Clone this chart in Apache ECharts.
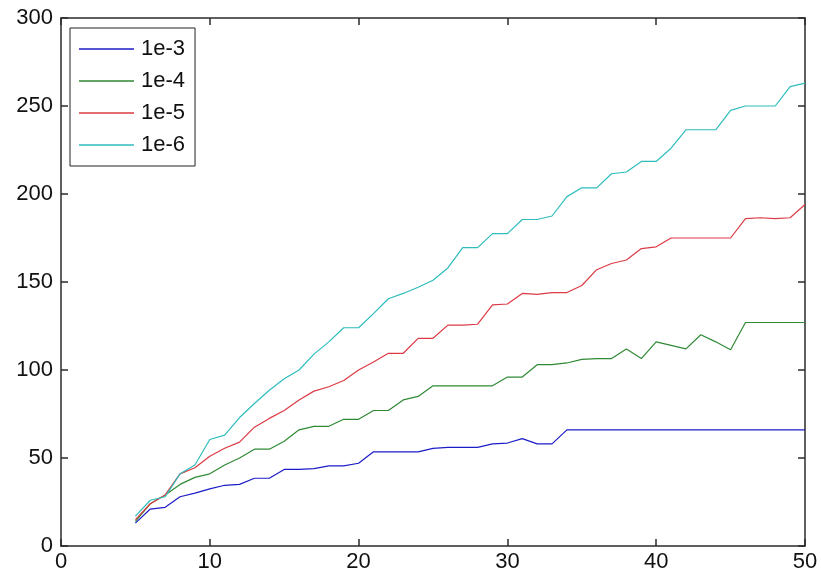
<!DOCTYPE html>
<html>
<head>
<meta charset="utf-8">
<script src="https://cdn.jsdelivr.net/npm/echarts@6/dist/echarts.min.js"></script>
<style>
  html, body { margin: 0; padding: 0; background: #fff; }
  #main { width: 821px; height: 579px; }
</style>
</head>
<body>
<div id="main"></div>
<script>
// x positions shared by all curves
var xs = [5, 6, 7, 8, 9, 10, 11, 12, 13, 14, 15, 16, 17, 18, 19, 20, 21, 22, 23, 24, 25, 26, 27,
  28, 29, 30, 31, 32, 33, 34, 35, 36, 37, 38, 39, 40, 41, 42, 43, 44, 45, 46, 47, 48, 49, 50];

var names = ["1e-3", "1e-4", "1e-5", "1e-6"];
var colors = ["#1c1cc8", "#2f8a35", "#dc3a44", "#2fbcbc"];

var y1e3 = [13, 21, 22, 28, 30, 32.5, 34.5, 35, 38.5, 38.5, 43.5, 43.5, 44, 45.5, 45.5, 47, 53.5, 53.5, 53.5, 53.5,
  55.5, 56, 56, 56, 58, 58.5, 61, 58, 58, 66, 66, 66, 66, 66, 66, 66, 66, 66, 66, 66, 66, 66, 66, 66, 66, 66];
var y1e4 = [14, 24, 29, 35, 39, 41, 46, 50, 55, 55, 59.5, 66, 68, 68, 72, 72, 77, 77, 83, 85, 91, 91, 91,
  91, 91, 96, 96, 103, 103, 104, 106, 106.5, 106.5, 112, 106.5, 116, 114, 112, 120, 116, 111.5, 127, 127, 127, 127, 127];
var y1e5 = [15, 24, 29, 41, 44.5, 51, 55.5, 59, 67.5, 72.5, 77, 83, 88, 90.5, 94, 100, 104.5, 109.5, 109.5, 118,
  118, 125.5, 125.5, 126, 137, 137.5, 143.5, 143, 144, 144, 148, 157, 160.5, 162.5, 169, 170, 175, 175, 175, 175,
  175, 186, 186.5, 186, 186.5, 194];
var y1e6 = [17, 26, 28, 41, 46, 60.5, 63, 73, 81, 88.5, 95, 100, 109, 116, 124, 124, 132, 140.5, 143.5, 147,
  151, 158, 169.5, 169.5, 177.5, 177.5, 185.5, 185.5, 187.5, 198.5, 203.5, 203.5, 211.5, 212.5, 218.5, 218.5,
  226, 236.5, 236.5, 236.5, 247.5, 250, 250, 250, 261, 263];

var ySeries = [y1e3, y1e4, y1e5, y1e6];

var chart = echarts.init(document.getElementById("main"));

var font = "Liberation Sans";
var axisColor = "#2b2b2b";

function pairs(ys) {
  return xs.map(function (x, i) { return [x, ys[i]]; });
}

var series = names.map(function (n, i) {
  return {
    name: n,
    type: "line",
    data: pairs(ySeries[i]),
    showSymbol: false,
    symbol: "none",
    lineStyle: { width: 1.2, color: colors[i] },
    itemStyle: { color: colors[i] },
    animation: false
  };
});

var baseAxis = {
  type: "value",
  axisLine: { show: true, onZero: false, lineStyle: { color: axisColor, width: 1.5 } },
  axisTick: { show: true, inside: true, length: 7, lineStyle: { color: axisColor, width: 1.5 } },
  splitLine: { show: false }
};

var option = {
  backgroundColor: "#fff",
  grid: { left: 61, right: 16, top: 18, bottom: 33 },
  legend: {
    orient: "vertical",
    left: 70,
    top: 28,
    data: names,
    icon: "rect",
    itemWidth: 55,
    itemHeight: 1.5,
    itemGap: 10,
    padding: [10, 10, 10, 9],
    borderColor: "#222",
    borderWidth: 1,
    backgroundColor: "#fff",
    textStyle: { fontFamily: font, fontSize: 22, color: "#111", padding: [0, 0, 0, 2] }
  },
  xAxis: [
    Object.assign({}, baseAxis, {
      min: 0, max: 50, interval: 10,
      position: "bottom",
      axisLabel: { color: "#111", fontFamily: font, fontSize: 22, margin: 5 }
    }),
    Object.assign({}, baseAxis, {
      min: 0, max: 50, interval: 10,
      position: "top",
      axisLabel: { show: false }
    })
  ],
  yAxis: [
    Object.assign({}, baseAxis, {
      min: 0, max: 300, interval: 50,
      position: "left",
      axisLabel: { color: "#111", fontFamily: font, fontSize: 22, margin: 8 }
    }),
    Object.assign({}, baseAxis, {
      min: 0, max: 300, interval: 50,
      position: "right",
      axisLabel: { show: false }
    })
  ],
  series: series
};

chart.setOption(option);
</script>
</body>
</html>
